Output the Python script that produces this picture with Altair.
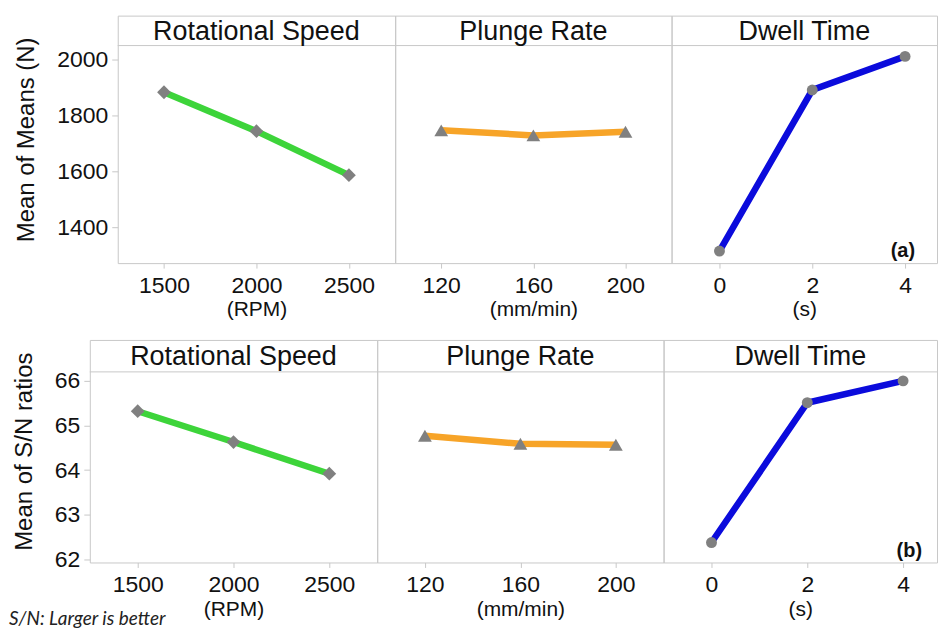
import altair as alt
import pandas as pd

factors = ["Rotational Speed", "Plunge Rate", "Dwell Time"]
units = ["(RPM)", "(mm/min)", "(s)"]
rs_levels = [1500, 2000, 2500]
pr_levels = [120, 160, 200]
dt_levels = [0, 2, 4]

means_rs = [1882, 1743, 1586]
means_pr = [1746, 1728, 1741]
means_dt = [1315, 1890, 2010]

sn_rs = [65.32, 64.63, 63.92]
sn_pr = [64.77, 64.59, 64.57]
sn_dt = [62.38, 65.51, 66.00]

mean_ticks = [1400, 1600, 1800, 2000]
sn_ticks = [62, 63, 64, 65, 66]

colors = ["#3dd43a", "#f7a428", "#0b0bdc"]
shapes = ["diamond", "triangle-up", "circle"]
sizes = [190, 190, 120]

FONT = "Liberation Sans"
GRAY = "#c8c8c8"


def panel(levels, values, title, unit, color, shape, size, width, height,
          xdom, ydom, yticks, header_px, ytitle=None, tag=None, tag_xy=None,
          footer=None):
    df = pd.DataFrame({"level": levels, "value": values})
    xenc = alt.X(
        "level:Q",
        scale=alt.Scale(domain=xdom, nice=False, zero=False),
        axis=alt.Axis(values=levels, format="d", title=unit, grid=False,
                      domain=False, tickColor=GRAY, tickSize=5,
                      labelFontSize=23, titleFontSize=21, labelPadding=6,
                      titlePadding=2, labelFont=FONT, titleFont=FONT,
                      titleFontWeight="normal", labelColor="#111",
                      titleColor="#111", labelFlush=False),
    )
    if ytitle is not None:
        yaxis = alt.Axis(values=yticks, format="d", title=ytitle, grid=False,
                         domain=False, tickColor=GRAY, tickSize=6,
                         labelFontSize=23, titleFontSize=24, labelPadding=4,
                         titlePadding=18, labelFont=FONT, titleFont=FONT,
                         titleFontWeight="normal", labelColor="#111",
                         titleColor="#111", labelFlush=False)
    else:
        yaxis = None
    yenc = alt.Y("value:Q", scale=alt.Scale(domain=ydom, nice=False, zero=False),
                 axis=yaxis)
    base = alt.Chart(df).encode(x=xenc, y=yenc)
    line = base.mark_line(color=color, strokeWidth=6.5)
    pts = base.mark_point(shape=shape, filled=True, color="#808080",
                          size=size, opacity=1)
    tdf = pd.DataFrame({"t": [title]})
    head = alt.Chart(tdf).mark_text(fontSize=27, font=FONT, baseline="middle",
                                    align="center", color="#111").encode(
        x=alt.value(width / 2), y=alt.value(header_px / 2 + 1), text="t:N")
    rule = alt.Chart(tdf).mark_rule(color=GRAY, strokeWidth=1).encode(
        x=alt.value(0), x2=alt.value(width), y=alt.value(header_px))
    layers = [rule, line, pts, head]
    if tag is not None:
        layers.append(alt.Chart(pd.DataFrame({"t": [tag]})).mark_text(
            fontSize=20, font=FONT, fontWeight="bold", align="right",
            baseline="middle", color="#111").encode(
            x=alt.value(tag_xy[0]), y=alt.value(tag_xy[1]), text="t:N"))
    if footer is not None:
        layers.append(alt.Chart(pd.DataFrame({"t": [footer]})).mark_text(
            fontSize=19, font="Lato", fontStyle="italic", align="left",
            baseline="middle", color="#222").encode(
            x=alt.value(-81), y=alt.value(height + 57), text="t:N"))
    return alt.layer(*layers).properties(width=width, height=height)


def spacer(width, height):
    return alt.Chart(pd.DataFrame({"t": [""]})).mark_text().encode(
        text="t:N").properties(width=width, height=height,
                               view=alt.ViewBackground(strokeOpacity=0))


top_dom = [1272, 2155.5]
top = alt.hconcat(
    spacer(28, 248),
    panel(rs_levels, means_rs, factors[0], units[0], colors[0], shapes[0], sizes[0],
          278, 248, [1250, 2750], top_dom, mean_ticks, 30, ytitle="Mean of Means (N)"),
    panel(pr_levels, means_pr, factors[1], units[1], colors[1], shapes[1], sizes[1],
          277, 248, [100, 220], top_dom, mean_ticks, 30),
    panel(dt_levels, means_dt, factors[2], units[2], colors[2], shapes[2], sizes[2],
          266, 248, [-1.032, 4.688], top_dom, mean_ticks, 30, tag="(a)",
          tag_xy=(244, 236)),
    spacing=0, bounds="flush",
)

bot_dom = [61.933, 66.916]
bottom = alt.hconcat(
    panel(rs_levels, sn_rs, factors[0], units[0], colors[0], shapes[0], sizes[0],
          288, 223, [1250, 2750], bot_dom, sn_ticks, 32, ytitle="Mean of S/N ratios",
          footer="S/N: Larger is better"),
    panel(pr_levels, sn_pr, factors[1], units[1], colors[1], shapes[1], sizes[1],
          287, 223, [100, 220], bot_dom, sn_ticks, 32),
    panel(dt_levels, sn_dt, factors[2], units[2], colors[2], shapes[2], sizes[2],
          274, 223, [-1, 4.708], bot_dom, sn_ticks, 32, tag="(b)",
          tag_xy=(259, 212)),
    spacing=0, bounds="flush",
)

chart = alt.vconcat(top, bottom, spacing=18).properties(
    padding={"left": 8, "top": 14, "right": 0, "bottom": 0},
    background="white",
).configure_view(stroke=GRAY, strokeWidth=1).configure_concat(spacing=0)

chart.save("out.html", embed_options={"renderer": "svg", "actions": False})
